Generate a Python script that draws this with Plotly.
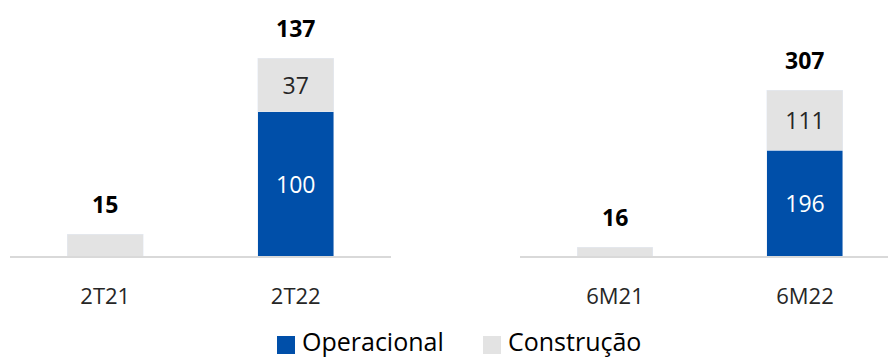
import plotly.graph_objects as go

# Quarterly and half-year figures, split by segment
cats_q = ["2T21", "2T22"]
oper_q = [0, 100]
constr_q = [15, 37]

cats_h = ["6M21", "6M22"]
oper_h = [0, 196]
constr_h = [16, 111]

series_names = ["Operacional", "Construção"]

BLUE = "#004FA9"
GRAY = "#E3E3E3"
FONT = "Open Sans"

total_q = [o + c for o, c in zip(oper_q, constr_q)]
total_h = [o + c for o, c in zip(oper_h, constr_h)]


def seg_text(vals):
    return [str(v) if i > 0 else "" for i, v in enumerate(vals)]


fig = go.Figure()

for cats, oper, constr, xa, ya in [
    (cats_q, oper_q, constr_q, "x", "y"),
    (cats_h, oper_h, constr_h, "x2", "y2"),
]:
    fig.add_trace(go.Bar(
        x=cats, y=oper, name=series_names[0], marker_color=BLUE,
        text=seg_text(oper), textposition="inside", insidetextanchor="middle",
        textfont=dict(color="white", size=23, family=FONT),
        xaxis=xa, yaxis=ya, showlegend=False, width=0.4,
    ))
    fig.add_trace(go.Bar(
        x=cats, y=constr, name=series_names[1], marker_color=GRAY,
        text=seg_text(constr), textposition="inside", insidetextanchor="middle",
        textfont=dict(color="#262626", size=23, family=FONT),
        xaxis=xa, yaxis=ya, showlegend=False, width=0.4,
    ))

annotations = []
for cats, totals, xr, yr in [(cats_q, total_q, "x", "y"), (cats_h, total_h, "x2", "y2")]:
    for c, t in zip(cats, totals):
        annotations.append(dict(
            x=c, y=t, xref=xr, yref=yr, text=f"<b>{t}</b>", showarrow=False,
            yanchor="bottom", yshift=12,
            font=dict(size=23, color="#000000", family=FONT),
        ))

# Legend drawn as swatches + labels along the bottom
W, H = 888, 358
shapes = []
legend_items = [(series_names[0], BLUE, 277), (series_names[1], GRAY, 483)]
for name, color, x0 in legend_items:
    shapes.append(dict(
        type="rect", xref="paper", yref="paper",
        x0=x0 / W, x1=(x0 + 18) / W, y0=(H - 354) / H, y1=(H - 336) / H,
        fillcolor=color, line=dict(width=0),
    ))
    annotations.append(dict(
        x=(x0 + 24) / W, y=(H - 341) / H, xref="paper", yref="paper",
        text=name, showarrow=False, xanchor="left", yanchor="middle",
        borderpad=0,
        font=dict(size=25, color="#000000", family=FONT),
    ))

base = (H - 256) / H
axis_common = dict(
    showgrid=False, zeroline=False, showline=True, linecolor="#D9D9D9",
    linewidth=2, ticks="", ticklabelstandoff=20,
    tickfont=dict(size=22, color="#262626", family=FONT),
)
yaxis_common = dict(visible=False, showgrid=False, zeroline=False)

fig.update_layout(
    width=W, height=H,
    margin=dict(l=0, r=0, t=0, b=0),
    paper_bgcolor="white", plot_bgcolor="white",
    barmode="stack",
    font=dict(family=FONT),
    showlegend=False,
    xaxis=dict(domain=[10 / W, 391 / W], range=[-0.5, 1.5], anchor="y", **axis_common),
    xaxis2=dict(domain=[520 / W, 1.0], range=[-0.5, 1.437], anchor="y2", **axis_common),
    yaxis=dict(domain=[base, 1.0], range=[0, 255 / 1.438], anchor="x", **yaxis_common),
    yaxis2=dict(domain=[base, 1.0], range=[0, 255 / 0.537], anchor="x2", **yaxis_common),
    annotations=annotations,
    shapes=shapes,
)

fig.write_html("out.html")
